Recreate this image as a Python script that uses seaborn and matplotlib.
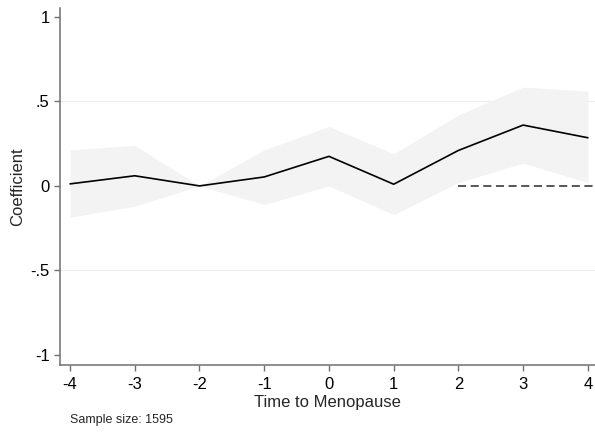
import matplotlib
matplotlib.use("Agg")
import matplotlib.pyplot as plt
import seaborn as sns
import pandas as pd

# Event-study estimates around menopause
periods = [-4, -3, -2, -1, 0, 1, 2, 3, 4]
coef = [0.012, 0.06, 0.0, 0.053, 0.175, 0.01, 0.21, 0.36, 0.285]
ci_low = [-0.185, -0.12, 0.0, -0.11, 0.0, -0.17, 0.02, 0.135, 0.02]
ci_high = [0.213, 0.24, 0.0, 0.213, 0.352, 0.19, 0.42, 0.585, 0.56]
y_ticks = [-1, -0.5, 0, 0.5, 1]
y_tick_labels = ["-1", "-.5", "0", ".5", "1"]
sample_size = 1595

df = pd.DataFrame({"period": periods, "coef": coef, "lo": ci_low, "hi": ci_high})

sns.set_theme(style="white")
plt.rcParams["font.family"] = ["Liberation Sans", "DejaVu Sans"]

fig = plt.figure(figsize=(5.95, 4.33), dpi=100)
ax = fig.add_axes([60 / 595, 1 - 365 / 433, 1 - 60 / 595, (365 - 8) / 433])

# confidence band
ax.fill_between(df["period"], df["lo"], df["hi"], color="#f3f3f3", linewidth=0, zorder=1)
sns.lineplot(data=df, x="period", y="coef", color="black", linewidth=1.2, ax=ax, zorder=3)

ax.set_xlim(-4.155, 4.11)
ax.set_ylim(-1.06, 1.053)

# reference line from the post-period onward
ax.plot([2, 4.11], [0, 0], color="#4a4a4a", linestyle=(0, (4.5, 2.5)), linewidth=1.3, zorder=2)

for g in (0.5, -0.5):
    ax.axhline(g, color="#e6efef", linewidth=0.8, zorder=0)

ax.set_xticks(periods)
ax.set_xticklabels([str(p) for p in periods])
ax.set_yticks(y_ticks)
ax.set_yticklabels(y_tick_labels)

for side in ("top", "right"):
    ax.spines[side].set_visible(False)
for side in ("left", "bottom"):
    ax.spines[side].set_color("#707070")
    ax.spines[side].set_linewidth(1.1)

ax.tick_params(axis="both", which="major", direction="out", length=4.5, width=1.0,
               color="#707070", labelsize=12, labelcolor="black", pad=3,
               bottom=True, left=True)
ax.tick_params(axis="x", pad=4)

ax.set_xlabel("Time to Menopause", fontsize=12, labelpad=2)
ax.set_ylabel("Coefficient", fontsize=12, va="center")
ax.yaxis.set_label_coords(-42 / 535, 0.5)

fig.text(70 / 595, 1 - 420 / 433, f"Sample size: {sample_size}", fontsize=9,
         ha="left", va="center")

fig.savefig("out.png", dpi=100)
